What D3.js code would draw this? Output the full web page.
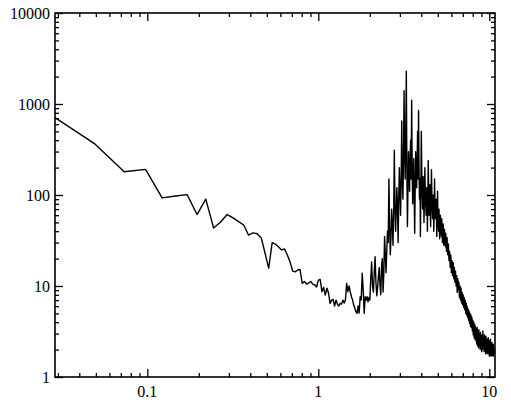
<!DOCTYPE html>
<html>
<head>
<meta charset="utf-8">
<script src="https://cdn.jsdelivr.net/npm/d3@7"></script>
<style>
  html, body { margin: 0; padding: 0; background: #fff; }
  svg { display: block; }
  .lbl { font-family: "Liberation Serif", "DejaVu Serif", serif; font-size: 16px; fill: #000; }
</style>
</head>
<body>
<svg id="chart" width="511" height="408"></svg>
<script>
// ---- data ----
const df = 0.024414;            // frequency resolution (bin width)
// power for bins 1..80 (frequency = bin * df)
const lowPower = [870, 370, 180, 191, 93, 97.5, 101, 61, 90, 43.4,
  50.5, 61, 56, 51, 46.8, 36.3, 38.4, 37.5, 33.7, 22.9,
  15.7, 29.9, 28.9, 26.8, 24.9, 25.5, 21.9, 18.4, 14.6, 14.3,
  15, 15.2, 10.7, 11.2, 10.5, 10.8, 11.2, 10.5, 10.3, 9.76,
  11.6, 11.8, 8.66, 9.67, 7.96, 9.45, 8.38, 6.45, 7.0, 7.14,
  6.03, 7.0, 6.33, 6.03, 6.45, 6.33, 7.0, 6.5, 7.0, 10.7,
  8.66, 10, 8.6, 7.63, 7.0, 6.17, 5.69, 5.22, 5.0, 6.03,
  5.04, 7.63, 7.0, 13.8, 9.0, 5.0, 7.63, 7.0, 7.63, 6.7];
// power for bins 81..230
const midPower = [7.5, 7.0, 12, 18.4, 10, 8.6, 14, 21, 11, 7.8,
  9.5, 12.6, 16, 10.3, 8, 16.6, 20, 8.6, 14, 35,
  22, 14, 25, 40, 30, 150, 45, 22, 35, 70,
  50, 28, 60, 310, 80, 40, 65, 120, 75, 30,
  90, 200, 110, 60, 140, 650, 160, 90, 250, 1400,
  300, 150, 450, 2300, 200, 45, 120, 300, 180, 110,
  250, 400, 150, 1100, 200, 80, 130, 250, 100, 38,
  120, 300, 180, 120, 220, 500, 150, 850, 200, 90,
  150, 35, 110, 500, 180, 100, 70, 160, 120, 50,
  90, 200, 110, 80, 60, 120, 95, 40, 85, 240,
  110, 60, 80, 130, 70, 45, 90, 190, 100, 70,
  55, 100, 75, 40, 65, 150, 80, 55, 70, 90,
  60, 35, 55, 110, 65, 50, 40, 70, 50, 33,
  45, 60, 48, 40, 35, 55, 42, 30, 38, 48,
  36, 28, 34, 42, 32, 30, 27, 38, 30, 24];
// power for every second bin 232,234,...,442
const tailPower = [34, 22, 29, 19, 24, 16, 22, 14, 19, 13,
  18, 12, 16, 11, 14.5, 10, 13, 8.5, 12, 9,
  11, 7.5, 10, 7, 9.5, 6.5, 8.5, 6.2, 8, 5.8,
  7.5, 5.5, 7, 5, 6.5, 4.8, 6, 4.5, 5.6, 4.2,
  5.3, 3.9, 5, 3.6, 4.8, 3.5, 4.5, 3.2, 4.2, 2.9,
  4.0, 2.7, 3.8, 2.6, 3.6, 2.5, 3.4, 2.3, 3.5, 2.2,
  3.2, 2.1, 3.3, 2.2, 3.0, 2.0, 3.1, 2.1, 2.9, 1.9,
  2.8, 2.0, 3.2, 2.1, 2.7, 1.9, 2.9, 2.0, 2.6, 1.8,
  2.8, 2.0, 2.5, 1.8, 2.6, 1.9, 2.7, 1.8, 2.4, 1.7,
  2.5, 1.8, 2.6, 1.7, 2.3, 1.8, 2.4, 1.7, 2.2, 1.8,
  2.3, 1.7, 2.1, 1.8, 2.0, 1.8];
const xTickLabels = ["0.1", "1", "10"];
const yTickLabels = ["1", "10", "100", "1000", "10000"];

// ---- build series ----
const series = [];
lowPower.forEach((p, i) => series.push([(i + 1) * df, p]));
midPower.forEach((p, i) => series.push([(81 + i) * df, p]));
tailPower.forEach((p, i) => series.push([(232 + 2 * i) * df, p]));

// ---- chart ----
const svg = d3.select("#chart");
const L = 55, R = 495, T = 13, B = 377;
const x = d3.scaleLog().domain([0.02884, 10.80]).range([L, R]);
const y = d3.scaleLog().domain([1, 10000]).range([B, T]);

svg.append("defs").append("clipPath").attr("id", "clip")
  .append("rect").attr("x", L).attr("y", T).attr("width", R - L).attr("height", B - T);

const line = d3.line().x(d => x(d[0])).y(d => y(d[1]));
svg.append("path").datum(series)
  .attr("clip-path", "url(#clip)")
  .attr("fill", "none").attr("stroke", "#000")
  .attr("stroke-width", 1.4).attr("stroke-linejoin", "round")
  .attr("d", line);

// ticks
const xMajor = xTickLabels.map(Number);
const xMinor = [];
[0.01, 0.1, 1, 10].forEach(dec => { for (let m = 2; m <= 9; m++) { const v = m * dec; if (v >= 0.02884 && v <= 10.8) xMinor.push(v); } });
const yMajor = yTickLabels.map(Number);
const yMinor = [];
[1, 10, 100, 1000].forEach(dec => { for (let m = 2; m <= 9; m++) yMinor.push(m * dec); });

function axisGroup(gen, tx, ty) {
  const g = svg.append("g").attr("transform", `translate(${tx},${ty})`).call(gen);
  g.select(".domain").remove();
  g.selectAll("line").attr("stroke", "#000").attr("stroke-width", 1.3);
  g.selectAll("text").remove();
  return g;
}
axisGroup(d3.axisBottom(x).tickValues(xMajor).tickSize(-8), 0, B);
axisGroup(d3.axisBottom(x).tickValues(xMinor).tickSize(-4), 0, B);
axisGroup(d3.axisTop(x).tickValues(xMajor).tickSize(-8), 0, T);
axisGroup(d3.axisTop(x).tickValues(xMinor).tickSize(-4), 0, T);
axisGroup(d3.axisLeft(y).tickValues(yMajor).tickSize(-8), L, 0);
axisGroup(d3.axisLeft(y).tickValues(yMinor).tickSize(-4), L, 0);
axisGroup(d3.axisRight(y).tickValues(yMajor).tickSize(-8), R, 0);
axisGroup(d3.axisRight(y).tickValues(yMinor).tickSize(-4), R, 0);

// frame
svg.append("rect").attr("x", L).attr("y", T).attr("width", R - L).attr("height", B - T)
  .attr("fill", "none").attr("stroke", "#000").attr("stroke-width", 1.6);

// labels
svg.selectAll(".xl").data(xTickLabels).enter().append("text")
  .attr("class", "lbl").attr("x", d => x(+d)).attr("y", 396.5)
  .attr("text-anchor", "middle").text(d => d);
svg.selectAll(".yl").data(yTickLabels).enter().append("text")
  .attr("class", "lbl").attr("x", 50).attr("y", d => y(+d) + 5.5)
  .attr("text-anchor", "end").text(d => d);
</script>
</body>
</html>
